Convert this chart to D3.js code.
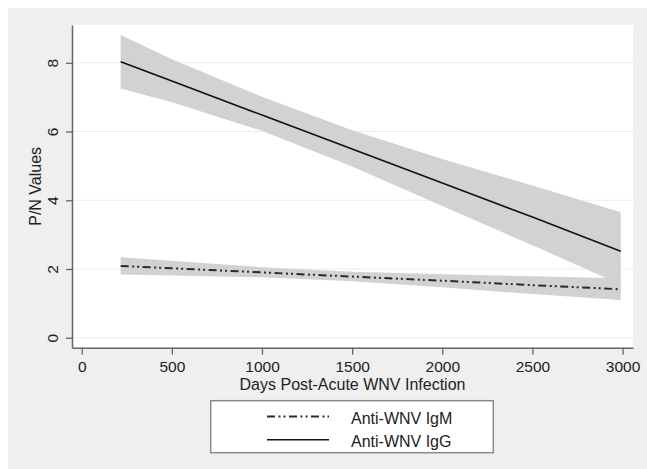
<!DOCTYPE html>
<html lang="en">
<head>
    <meta charset="UTF-8">
    <title>P/N Values by Days Post-Acute WNV Infection</title>
    <script src="https://d3js.org/d3.v7.min.js"></script>
    <style>
        body {
            margin: 0;
            background-color: white;
        }
        svg {
            display: block;
            font-family: "Liberation Sans", Arial, sans-serif;
        }
        .tick-label {
            font-size: 15.5px;
            fill: #222;
        }
        .axis-title {
            font-size: 16px;
            fill: #222;
        }
        .band {
            fill: #d2d2d2;
            stroke: none;
        }
        .grid line {
            stroke: #ececec;
            stroke-width: 1;
        }
    </style>
</head>
<body>
<script>
    // fitted values and 95% CI
    const days = [216, 500, 1000, 1500, 2000, 2500, 2990];

    const iggFit = [8.03, 7.47, 6.48, 5.49, 4.50, 3.51, 2.52];
    const iggLo  = [7.25, 6.85, 6.02, 4.98, 3.83, 2.69, 1.55];
    const iggHi  = [8.81, 8.10, 7.01, 6.04, 5.20, 4.43, 3.65];

    const igmFit = [2.09, 2.02, 1.90, 1.78, 1.66, 1.53, 1.41];
    const igmLo  = [1.84, 1.81, 1.76, 1.64, 1.47, 1.27, 1.10];
    const igmHi  = [2.34, 2.24, 2.05, 1.92, 1.85, 1.79, 1.73];

    const xTicks = [0, 500, 1000, 1500, 2000, 2500, 3000];
    const yTicks = [0, 2, 4, 6, 8];

    const legendLabels = ["Anti-WNV IgM", "Anti-WNV IgG"];

    const width = 647, height = 469;
    const plot = {left: 72, right: 633, top: 25, bottom: 347.7};
    const igmDash = "8,3.5,2,3,2,3.5";

    const svg = d3.select("body")
        .append("svg")
        .attr("width", width)
        .attr("height", height);

    // outer graph region
    svg.append("rect")
        .attr("x", 8).attr("y", 8)
        .attr("width", width - 8).attr("height", height - 8)
        .attr("fill", "#efefef");

    svg.append("rect")
        .attr("x", plot.left).attr("y", plot.top)
        .attr("width", plot.right - plot.left)
        .attr("height", plot.bottom - plot.top)
        .attr("fill", "white");

    const x = d3.scaleLinear().domain([-54, 3058]).range([plot.left, plot.right]);
    const y = d3.scaleLinear().domain([-0.29, 9.1]).range([plot.bottom, plot.top]);

    // gridlines
    svg.append("g")
        .attr("class", "grid")
        .selectAll("line")
        .data(yTicks)
        .enter().append("line")
        .attr("x1", plot.left + 1).attr("x2", plot.right)
        .attr("y1", d => y(d)).attr("y2", d => y(d));

    const pts = (fit, lo, hi) => days.map((d, i) => ({d: d, fit: fit[i], lo: lo[i], hi: hi[i]}));
    const igg = pts(iggFit, iggLo, iggHi);
    const igm = pts(igmFit, igmLo, igmHi);

    const area = d3.area()
        .x(p => x(p.d))
        .y0(p => y(p.lo))
        .y1(p => y(p.hi));

    const line = d3.line()
        .x(p => x(p.d))
        .y(p => y(p.fit));

    svg.append("path").datum(igg).attr("class", "band").attr("d", area);
    svg.append("path").datum(igm).attr("class", "band").attr("d", area);

    svg.append("path").datum(igm)
        .attr("d", line)
        .attr("fill", "none")
        .attr("stroke", "#2a2a2a")
        .attr("stroke-width", 2)
        .attr("stroke-dasharray", igmDash);

    svg.append("path").datum(igg)
        .attr("d", line)
        .attr("fill", "none")
        .attr("stroke", "#111")
        .attr("stroke-width", 1.6);

    // x axis
    const xAxis = svg.append("g")
        .attr("transform", `translate(0,${plot.bottom})`)
        .call(d3.axisBottom(x).tickValues(xTicks).tickFormat(d3.format("d"))
            .tickSize(7).tickSizeOuter(0).tickPadding(6));
    xAxis.select(".domain").attr("stroke", "#666").attr("stroke-width", 1.5);
    xAxis.selectAll(".tick line").attr("stroke", "#666").attr("stroke-width", 1.3);
    xAxis.selectAll(".tick text").attr("class", "tick-label");

    // y axis, labels turned like Stata does
    const yAxis = svg.append("g")
        .attr("transform", `translate(${plot.left},0)`)
        .call(d3.axisLeft(y).tickValues(yTicks).tickFormat(d3.format("d"))
            .tickSize(6).tickSizeOuter(0));
    yAxis.select(".domain").attr("stroke", "#666").attr("stroke-width", 1.5);
    yAxis.selectAll(".tick line").attr("stroke", "#666").attr("stroke-width", 1.3);
    yAxis.selectAll(".tick text")
        .attr("class", "tick-label")
        .attr("x", 0).attr("dy", 0)
        .attr("text-anchor", "middle")
        .attr("transform", "translate(-19.5,0) rotate(-90)")
        .attr("y", 0)
        .attr("dominant-baseline", "central");

    svg.append("text")
        .attr("class", "axis-title")
        .attr("text-anchor", "middle")
        .attr("transform", `translate(41,${(plot.top + plot.bottom) / 2}) rotate(-90)`)
        .text("P/N Values");

    svg.append("text")
        .attr("class", "axis-title")
        .attr("text-anchor", "middle")
        .attr("x", (plot.left + plot.right) / 2)
        .attr("y", 389.5)
        .text("Days Post-Acute WNV Infection");

    // legend
    const legend = svg.append("g");
    legend.append("rect")
        .attr("x", 210.7).attr("y", 400.7)
        .attr("width", 282.6).attr("height", 52)
        .attr("fill", "white")
        .attr("stroke", "#8a8a8a")
        .attr("stroke-width", 1.5);

    const rows = legend.selectAll(".row")
        .data(legendLabels)
        .enter().append("g")
        .attr("transform", (d, i) => `translate(0,${416.5 + i * 23.3})`);

    rows.append("line")
        .attr("x1", 267).attr("x2", 329)
        .attr("stroke", (d, i) => i === 0 ? "#2a2a2a" : "#111")
        .attr("stroke-width", (d, i) => i === 0 ? 2 : 1.6)
        .attr("stroke-dasharray", (d, i) => i === 0 ? igmDash : null);

    rows.append("text")
        .attr("class", "axis-title")
        .attr("x", 351)
        .attr("y", 7.2)
        .text(d => d);
</script>
</body>
</html>
